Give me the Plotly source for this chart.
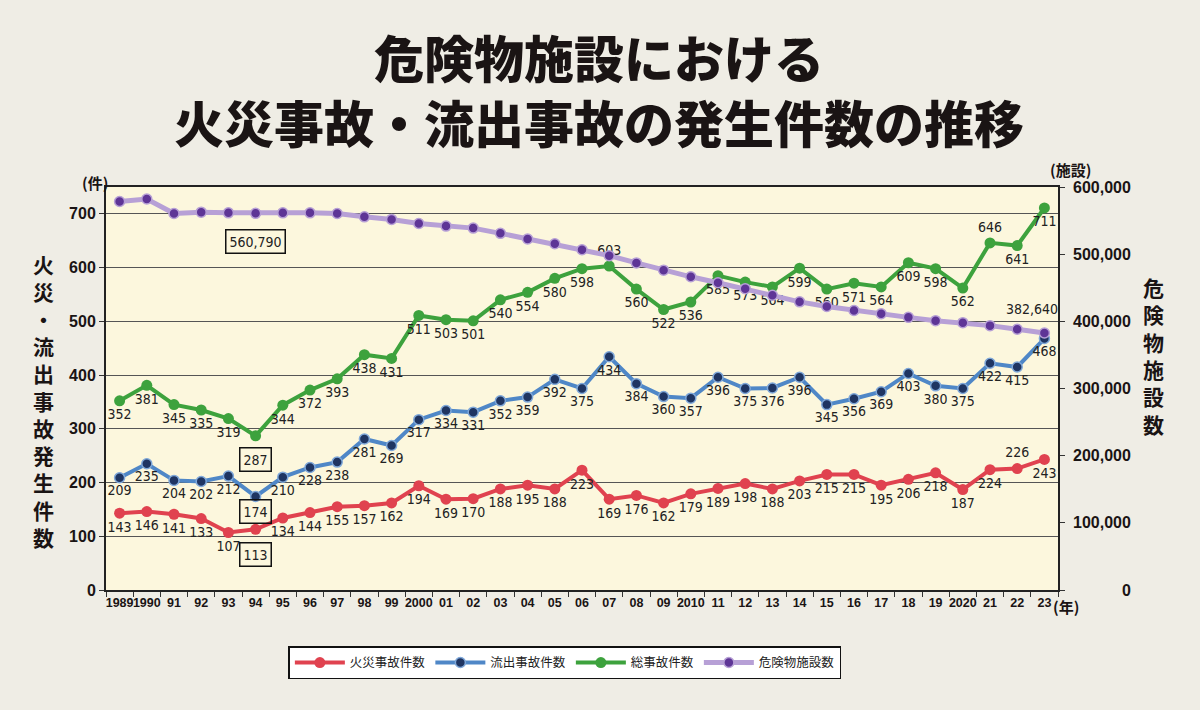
import plotly.graph_objects as go

# 年 (1989-2023)
years = list(range(1989, 2024))
tick_labels = ['1989', '1990', '91', '92', '93', '94', '95', '96', '97', '98', '99',
               '2000', '01', '02', '03', '04', '05', '06', '07', '08', '09',
               '2010', '11', '12', '13', '14', '15', '16', '17', '18', '19',
               '2020', '21', '22', '23']

# 火災事故件数
fire = [143, 146, 141, 133, 107, 113, 134, 144, 155, 157, 162, 194, 169, 170, 188,
        195, 188, 223, 169, 176, 162, 179, 189, 198, 188, 203, 215, 215, 195, 206,
        218, 187, 224, 226, 243]
# 流出事故件数
spill = [209, 235, 204, 202, 212, 174, 210, 228, 238, 281, 269, 317, 334, 331, 352,
         359, 392, 375, 434, 384, 360, 357, 396, 375, 376, 396, 345, 356, 369, 403,
         380, 375, 422, 415, 468]
# 総事故件数
total = [352, 381, 345, 335, 319, 287, 344, 372, 393, 438, 431, 511, 503, 501, 540,
         554, 580, 598, 603, 560, 522, 536, 585, 573, 564, 599, 560, 571, 564, 609,
         598, 562, 646, 641, 711]
# 危険物施設数 (estimated except 1994 and 2023)
facilities = [578400, 582200, 560600, 562500, 561500, 560790, 561500, 561500, 560600,
              555600, 551700, 545700, 541800, 538800, 531000, 522500, 515500, 506600,
              497800, 487000, 476200, 466300, 457500, 448600, 438800, 429000, 422100,
              416200, 411300, 405900, 401000, 398000, 393600, 388200, 382640]

left_ticks = [0, 100, 200, 300, 400, 500, 600, 700]
right_ticks = [0, 100000, 200000, 300000, 400000, 500000, 600000]

series_names = ['火災事故件数', '流出事故件数', '総事故件数', '危険物施設数']

BOX_IDX = 5  # 1994 values shown in boxes
LAST = len(years) - 1

narrow = 'Liberation Sans Narrow, Arial Narrow, DejaVu Sans Condensed, Roboto, sans-serif'
label_font = dict(family=narrow, size=14, color='#222222')
jp_font = 'Noto Sans CJK JP'
dark = '#1a1414'


def labels(vals, skip=()):
    return ['' if i in skip else str(v) for i, v in enumerate(vals)]


def positions(n, top=()):
    return ['top center' if i in top else 'bottom center' for i in range(n)]


fig = go.Figure()

fig.add_trace(go.Scatter(
    x=tick_labels, y=fire, name=series_names[0], mode='lines+markers+text',
    line=dict(color='#E0424F', width=4),
    marker=dict(color='#E0424F', size=11),
    text=labels(fire, skip=(BOX_IDX,)), textposition=positions(len(fire), top=(33,)),
    textfont=label_font, cliponaxis=False))

fig.add_trace(go.Scatter(
    x=tick_labels, y=spill, name=series_names[1], mode='lines+markers+text',
    line=dict(color='#4F87C7', width=4),
    marker=dict(color='#1F3562', size=10, line=dict(color='#7FA8DA', width=1.5)),
    text=labels(spill, skip=(BOX_IDX,)), textposition=positions(len(spill)),
    textfont=label_font, cliponaxis=False))

fig.add_trace(go.Scatter(
    x=tick_labels, y=total, name=series_names[2], mode='lines+markers+text',
    line=dict(color='#3DA23D', width=4),
    marker=dict(color='#3DA23D', size=11),
    text=labels(total, skip=(BOX_IDX,)), textposition=positions(len(total), top=(18, 32)),
    textfont=label_font, cliponaxis=False))

fig.add_trace(go.Scatter(
    x=tick_labels, y=facilities, name=series_names[3], mode='lines+markers',
    yaxis='y2',
    line=dict(color='#B7A0D6', width=5),
    marker=dict(color='#5E3596', size=10, line=dict(color='#B7A0D6', width=1.5)),
    cliponaxis=False))

# boxed 1994 labels (x given as category index)
box_style = dict(showarrow=False, bordercolor='#111111', borderwidth=1.5, borderpad=3,
                 font=label_font, xref='x')
annotations = [
    dict(x=BOX_IDX, y=facilities[BOX_IDX], yref='y2', yshift=-28,
         text=f'{facilities[BOX_IDX]:,}', **box_style),
    dict(x=BOX_IDX, y=total[BOX_IDX], yref='y', yshift=-24,
         text=str(total[BOX_IDX]), **box_style),
    dict(x=BOX_IDX, y=spill[BOX_IDX], yref='y', yshift=-15,
         text=str(spill[BOX_IDX]), **box_style),
    dict(x=BOX_IDX, y=fire[BOX_IDX], yref='y', yshift=-25,
         text=str(fire[BOX_IDX]), **box_style),
    # latest facility count
    dict(x=LAST, y=facilities[LAST], xref='x', yref='y2', showarrow=False,
         xanchor='right', xshift=16, yshift=24, text=f'{facilities[LAST]:,}', font=label_font),
]

# right axis tick labels (right-aligned like the original)
for v in right_ticks:
    annotations.append(dict(xref='paper', yref='y2', x=1.079, y=v, xanchor='right',
                            showarrow=False, text=f'{v:,}',
                            font=dict(family='Liberation Sans, Arial, sans-serif', size=16,
                                      color=dark, weight='bold')))

# titles and unit labels
annotations += [
    dict(xref='paper', yref='paper', x=0.518, y=1.245, yanchor='middle', showarrow=False,
         text='危険物施設における<br>火災事故・流出事故の発生件数の推移',
         font=dict(family=jp_font, size=50, color=dark, weight=900)),
    dict(xref='paper', yref='paper', x=-0.079, y=0.471, showarrow=False,
         text='<br>'.join('火災・流出事故発生件数'),
         font=dict(family=jp_font, size=21, color=dark, weight='bold')),
    dict(xref='paper', yref='paper', x=1.113, y=0.583, showarrow=False,
         text='<br>'.join('危険物施設数'),
         font=dict(family=jp_font, size=21, color=dark, weight='bold')),
    dict(xref='paper', yref='paper', x=-0.027, y=1.012, yanchor='middle', showarrow=False,
         text='(件)', font=dict(family=jp_font, size=15, color=dark, weight='bold')),
    dict(xref='paper', yref='paper', x=1.037, y=1.074, showarrow=False,
         text='(施設)', font=dict(family=jp_font, size=15, color=dark, weight='bold')),
    dict(xref='paper', yref='paper', x=1.024, y=-0.072, showarrow=False,
         text='(年)', font=dict(family=jp_font, size=15, color=dark, weight='bold')),
]

fig.update_layout(
    width=1200, height=710,
    paper_bgcolor='#EFEDE5', plot_bgcolor='#FCF7DD',
    margin=dict(l=106, r=142, t=187, b=120),
    showlegend=True,
    legend=dict(orientation='h', x=0.482, xanchor='center', y=-0.14, yanchor='top',
                bgcolor='white', bordercolor='#111111', borderwidth=1.5,
                font=dict(family=jp_font, size=12.5, color='#222222'),
                itemwidth=50),
    annotations=annotations,
    xaxis=dict(type='category', tickson='boundaries', ticks='outside', ticklen=5,
               tickcolor='#333333', showline=True, linecolor='#222222', linewidth=2,
               mirror=True, showgrid=False, range=[-0.5, len(tick_labels) - 0.5],
               tickfont=dict(family='Liberation Sans, Arial, sans-serif', size=12.5,
                             color=dark, weight='bold'),
               tickangle=0),
    yaxis=dict(range=[0, 750], tickvals=left_ticks,
               showgrid=True, gridcolor='#555555', gridwidth=1,
               showline=True, linecolor='#222222', linewidth=2,
               ticks='outside', ticklen=5, tickcolor='#333333', zeroline=False,
               tickfont=dict(family='Liberation Sans, Arial, sans-serif', size=16,
                             color=dark, weight='bold')),
    yaxis2=dict(range=[0, 600000], overlaying='y', side='right',
                tickvals=right_ticks, showticklabels=False,
                showgrid=False, zeroline=False,
                showline=True, linecolor='#222222', linewidth=2,
                ticks='outside', ticklen=5, tickcolor='#333333'),
)

fig.write_html('out.html', config={'displayModeBar': False},
               post_script="document.body.style.margin='0';")
